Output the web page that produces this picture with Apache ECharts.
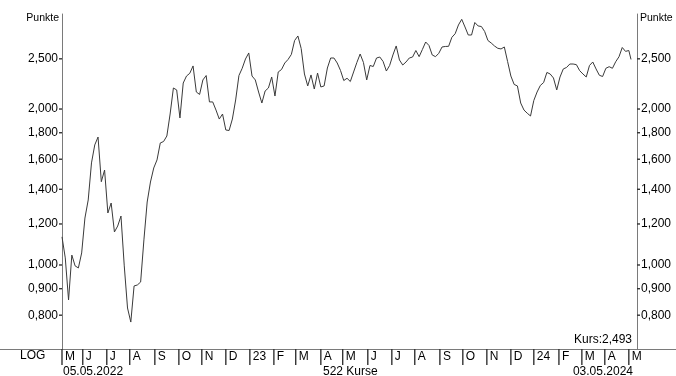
<!DOCTYPE html>
<html><head><meta charset="utf-8">
<script src="https://cdn.jsdelivr.net/npm/echarts@6/dist/echarts.min.js"></script>
<style>html,body{margin:0;padding:0;background:#fff}#c{width:676px;height:376px}</style>
</head><body><div id="c"></div>
<script>
// ---- data ----
const startDate = '2022-05-05';
const endDate = '2024-05-03';
const sampleStep = 3; // one value read every 3rd trading day
const values = [
1.133,1.032,0.856,1.045,0.996,0.987,1.055,1.232,1.335,1.574,
1.705,1.766,1.448,1.525,1.260,1.317,1.158,1.189,1.243,0.996,
0.826,0.776,0.911,0.915,0.927,1.118,1.323,1.446,1.539,1.595,
1.720,1.731,1.774,1.956,2.196,2.177,1.922,2.245,2.316,2.344,
2.422,2.157,2.134,2.276,2.321,2.064,2.064,1.991,1.913,1.956,
1.822,1.818,1.913,2.082,2.321,2.397,2.498,2.566,2.316,2.276,
2.157,2.054,2.167,2.196,2.306,2.119,2.358,2.384,2.454,2.493,
2.549,2.712,2.767,2.617,2.337,2.216,2.327,2.186,2.347,2.206,
2.216,2.400,2.509,2.509,2.454,2.374,2.270,2.293,2.260,2.358,
2.460,2.554,2.460,2.276,2.427,2.416,2.509,2.520,2.471,2.368,
2.427,2.543,2.647,2.487,2.432,2.465,2.509,2.520,2.594,2.524,
2.606,2.694,2.653,2.543,2.524,2.562,2.635,2.641,2.643,2.751,
2.795,2.906,2.980,2.880,2.779,2.779,2.938,2.893,2.886,2.823,
2.712,2.682,2.647,2.620,2.612,2.635,2.471,2.316,2.231,2.216,
2.054,1.991,1.963,1.939,2.077,2.157,2.221,2.250,2.353,2.337,
2.296,2.177,2.306,2.390,2.406,2.443,2.443,2.436,2.372,2.337,
2.306,2.427,2.465,2.390,2.324,2.311,2.397,2.414,2.397,2.468,
2.523,2.629,2.584,2.594,2.493
];
const yTicks = [0.8, 0.9, 1.0, 1.2, 1.4, 1.6, 1.8, 2.0, 2.5];
const yMin = 0.6884, yMax = 3.051;
const monthLetters = ['J','F','M','A','M','J','J','A','S','O','N','D'];
const lastPrice = 2.493;
const courseCount = 522;

// ---- trading days (weekdays) ----
const tradingDays = [];
for (let d = new Date(startDate + 'T00:00:00Z'); d <= new Date(endDate + 'T00:00:00Z'); d.setUTCDate(d.getUTCDate() + 1)) {
  const wd = d.getUTCDay();
  if (wd !== 0 && wd !== 6) tradingDays.push(d.toISOString().slice(0, 10));
}
const seriesData = values.map((v, i) => [tradingDays[Math.min(i * sampleStep, tradingDays.length - 1)], v]);
const isMonthStart = (idx) => idx === 0 || tradingDays[idx].slice(5, 7) !== tradingDays[idx - 1].slice(5, 7);
const monthStartDays = tradingDays.filter((d, i) => isMonthStart(i));
const fmtNum = (v) => v.toFixed(3).replace('.', ',');
const fmtDate = (s) => s.slice(8, 10) + '.' + s.slice(5, 7) + '.' + s.slice(0, 4);

const FONT = '"Liberation Sans",Arial,sans-serif';
const TICK = '#333';
const chart = echarts.init(document.getElementById('c'), null, {renderer: 'canvas'});

const yAxisBase = {
  type: 'log', logBase: 10, min: yMin, max: yMax,
  splitLine: {show: false},
  axisLine: {show: true, lineStyle: {color: '#7a7a7a', width: 1}},
  axisTick: {show: false},
  axisLabel: {show: true, customValues: yTicks, margin: 4, color: '#000', fontFamily: FONT, fontSize: 12,
    formatter: (v) => fmtNum(v)}
};

chart.setOption({
  animation: false,
  backgroundColor: '#fff',
  grid: {left: 62, right: 45, top: 14, bottom: 27, containLabel: false},
  xAxis: {
    type: 'category', data: tradingDays, boundaryGap: false,
    axisLine: {show: true, onZero: false, lineStyle: {color: '#7a7a7a', width: 1}},
    axisTick: {show: false},
    axisLabel: {show: true, customValues: monthStartDays, align: 'left', margin: 2, padding: [0, 0, 0, 3],
      color: '#000', fontFamily: FONT, fontSize: 12,
      formatter: (val) => { const m = parseInt(String(val).slice(5, 7), 10); return m === 1 ? String(val).slice(2, 4) : monthLetters[m - 1]; }},
    splitLine: {show: false}
  },
  yAxis: [
    Object.assign({}, yAxisBase, {position: 'left'}),
    Object.assign({}, yAxisBase, {position: 'right', offset: 6})
  ],
  series: [
    {
      type: 'line', data: seriesData, yAxisIndex: 0, showSymbol: false, symbol: 'none',
      lineStyle: {color: '#3a3a3a', width: 1}, smooth: false
    },
    { // month tick marks below the time axis
      type: 'custom', clip: false, z: 5,
      data: monthStartDays.map(d => [d, yMin]),
      renderItem: (params, api) => {
        const p = api.coord([api.value(0), api.value(1)]);
        return {type: 'line', shape: {x1: p[0], y1: p[1], x2: p[0], y2: p[1] + 16}, style: {stroke: TICK, lineWidth: 1.4}};
      }
    },
    { // value tick marks on both price axes
      type: 'custom', clip: false, z: 5,
      data: yTicks.map(v => [tradingDays[0], v]),
      renderItem: (params, api) => {
        const pl = api.coord([tradingDays[0], api.value(1)]);
        const pr = api.coord([tradingDays[tradingDays.length - 1], api.value(1)]);
        return {type: 'group', children: [
          {type: 'line', shape: {x1: pl[0] - 3, y1: pl[1], x2: pl[0], y2: pl[1]}, style: {stroke: TICK, lineWidth: 1.4}},
          {type: 'line', shape: {x1: pr[0] + 6, y1: pr[1], x2: pr[0] + 9, y2: pr[1]}, style: {stroke: TICK, lineWidth: 1.4}}
        ]};
      }
    }
  ],
  graphic: [
    {type: 'line', shape: {x1: 0, y1: 349.5, x2: 676, y2: 349.5}, style: {stroke: '#7a7a7a', lineWidth: 1}, silent: true},
    {type: 'text', left: 20, top: 350, style: {text: 'LOG', fontFamily: FONT, fontSize: 12, fill: '#000'}},
    {type: 'text', right: 617, top: 13, style: {text: 'Punkte', fontFamily: FONT, fontSize: 10.5, fill: '#000', textAlign: 'right'}},
    {type: 'text', left: 640, top: 13, style: {text: 'Punkte', fontFamily: FONT, fontSize: 10.5, fill: '#000'}},
    {type: 'text', right: 44, top: 334, style: {text: 'Kurs:' + fmtNum(lastPrice), fontFamily: FONT, fontSize: 12, fill: '#000'}},
    {type: 'text', left: 63, top: 366, style: {text: fmtDate(startDate), fontFamily: FONT, fontSize: 12, fill: '#000'}},
    {type: 'text', left: 323, top: 366, style: {text: courseCount + ' Kurse', fontFamily: FONT, fontSize: 12, fill: '#000'}},
    {type: 'text', right: 43, top: 366, style: {text: fmtDate(endDate), fontFamily: FONT, fontSize: 12, fill: '#000'}}
  ]
});
</script></body></html>
